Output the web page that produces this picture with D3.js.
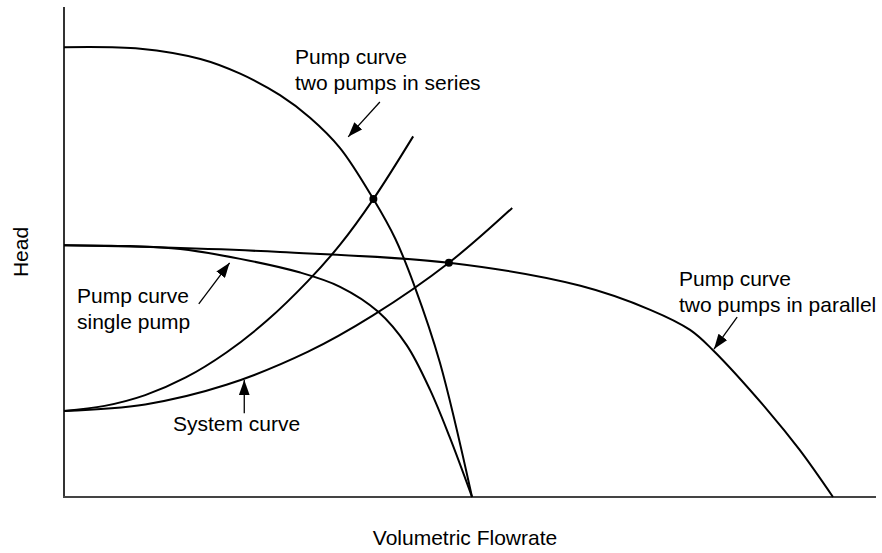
<!DOCTYPE html>
<html>
<head>
<meta charset="utf-8">
<script src="https://cdn.jsdelivr.net/npm/d3@7"></script>
<style>
  body { margin: 0; background: #fff; }
  svg { display: block; }
  text { font-family: "Liberation Sans", Arial, Helvetica, sans-serif; font-size: 21px; fill: #000; }
</style>
</head>
<body>
<svg width="882" height="553"></svg>
<script>
var width = 882;
var height = 553;
var margin = { left: 64, top: 7, right: 6, bottom: 56 };

// curves (flow 0-100, head 0-100)
var seriesFlow = [0, 9.4, 16.8, 21.7, 26.6, 30.3, 34.0, 38.1, 40.8, 43.2, 46.3, 50.25];
var seriesHead = [91.8, 91.5, 89.4, 86.4, 82.0, 77.4, 71.2, 60.8, 52.7, 42.9, 27.4, 0];

var singleFlow = [0, 8.1, 14.3, 21.7, 29.1, 34.0, 38.7, 42.2, 45.1, 47.5, 50.25];
var singleHead = [51.4, 51.2, 50.6, 48.6, 45.8, 42.9, 37.8, 31.0, 21.8, 12.2, 0];

var parallelFlow = [0, 10.6, 26.6, 47.4, 63.6, 72.2, 77.1, 79.9, 86.6, 90.6, 94.7];
var parallelHead = [51.4, 51.0, 50.0, 47.8, 43.1, 38.2, 34.1, 30.0, 17.8, 9.6, 0];

var systemSteepFlow = [0, 5, 10, 15, 20, 25, 30, 34, 38.1, 43.0];
var systemSteepHead = [17.55, 18.6, 20.8, 24.4, 29.5, 36.0, 44.0, 51.5, 60.8, 73.6];

var systemFlow = [0, 10, 20, 30, 38, 47.4, 55.2];
var systemHead = [17.55, 18.9, 22.9, 29.6, 37.0, 47.8, 59.0];

// operating points
var pointFlow = [38.1, 47.4];
var pointHead = [60.8, 47.8];

// annotation arrows [fromFlow, fromHead, toFlow, toHead]
var arrows = [
  [38.9, 80.6, 35.0, 73.5],
  [16.6, 39.4, 20.4, 47.8],
  [22.2, 17.1, 22.2, 23.9],
  [82.9, 36.7, 80.05, 30.2]
];

// label lines and their pixel spots
var labels = [
  { lines: ["Pump curve", "two pumps in series"], x: 295, y: 64 },
  { lines: ["Pump curve", "single pump"], x: 77, y: 303 },
  { lines: ["System curve"], x: 173, y: 431 },
  { lines: ["Pump curve", "two pumps in parallel"], x: 679, y: 286 }
];

var xScale = d3.scaleLinear().domain([0, 100]).range([margin.left, width - margin.right]);
var yScale = d3.scaleLinear().domain([0, 100]).range([height - margin.bottom, margin.top]);

var svg = d3.select("svg");

svg.append("defs").append("marker")
  .attr("id", "head")
  .attr("viewBox", "0 0 14 10")
  .attr("refX", 14)
  .attr("refY", 5)
  .attr("markerWidth", 15)
  .attr("markerHeight", 11)
  .attr("markerUnits", "userSpaceOnUse")
  .attr("orient", "auto")
  .append("path")
  .attr("d", "M0,0 L14,5 L0,10 Z")
  .attr("fill", "#000");

// axes - plain lines, no ticks
svg.append("line")
  .attr("x1", xScale(0)).attr("y1", yScale(100))
  .attr("x2", xScale(0)).attr("y2", yScale(0))
  .attr("stroke", "#333").attr("stroke-width", 2);
svg.append("line")
  .attr("x1", xScale(0) - 1).attr("y1", yScale(0))
  .attr("x2", xScale(100)).attr("y2", yScale(0))
  .attr("stroke", "#444").attr("stroke-width", 2);

var line = d3.line()
  .x(function(d) { return xScale(d[0]); })
  .y(function(d) { return yScale(d[1]); })
  .curve(d3.curveCatmullRom.alpha(0.5));

var curves = [
  d3.zip(seriesFlow, seriesHead),
  d3.zip(singleFlow, singleHead),
  d3.zip(parallelFlow, parallelHead),
  d3.zip(systemSteepFlow, systemSteepHead),
  d3.zip(systemFlow, systemHead)
];

svg.selectAll("path.curve").data(curves)
  .enter()
  .append("path")
  .attr("class", "curve")
  .attr("d", line)
  .attr("fill", "none")
  .attr("stroke", "#000")
  .attr("stroke-width", 2);

svg.selectAll("circle").data(d3.zip(pointFlow, pointHead))
  .enter()
  .append("circle")
  .attr("cx", function(d) { return xScale(d[0]); })
  .attr("cy", function(d) { return yScale(d[1]); })
  .attr("r", 4)
  .attr("fill", "#000");

svg.selectAll("line.arrow").data(arrows)
  .enter()
  .append("line")
  .attr("class", "arrow")
  .attr("x1", function(d) { return xScale(d[0]); })
  .attr("y1", function(d) { return yScale(d[1]); })
  .attr("x2", function(d) { return xScale(d[2]); })
  .attr("y2", function(d) { return yScale(d[3]); })
  .attr("stroke", "#000")
  .attr("stroke-width", 1.3)
  .attr("marker-end", "url(#head)");

labels.forEach(function(l) {
  var t = svg.append("text").attr("x", l.x).attr("y", l.y);
  l.lines.forEach(function(s, i) {
    t.append("tspan").attr("x", l.x).attr("dy", i === 0 ? 0 : 26).text(s);
  });
});

// axis titles
svg.append("text")
  .attr("text-anchor", "middle")
  .attr("transform", "translate(28,252) rotate(-90)")
  .text("Head");
svg.append("text")
  .attr("text-anchor", "middle")
  .attr("x", 465)
  .attr("y", 545)
  .text("Volumetric Flowrate");
</script>
</body>
</html>
